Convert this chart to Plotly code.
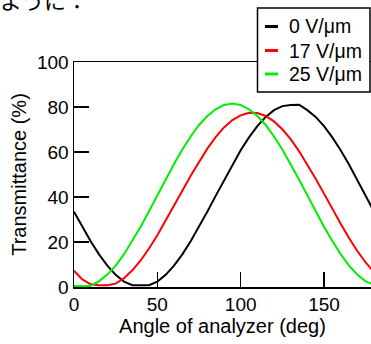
import plotly.graph_objects as go

angle = [0, 5, 10, 15, 20, 25, 30, 35, 40, 45, 50, 55, 60, 65, 70, 75, 80, 85, 90,
         95, 100, 105, 110, 115, 120, 125, 130, 135, 140, 145, 150, 155, 160, 165, 170, 175, 180]

t_0 = [33.5, 26.6, 20.3, 14.5, 9.5, 5.4, 2.4, 0.8, 0.7, 0.8, 2.4, 5.4, 9.5, 14.5, 20.3, 26.6,
       33.5, 40.5, 47.5, 54.4, 60.8, 66.5, 71.5, 75.6, 78.6, 80.4, 80.9, 81.0, 78.6, 75.6, 71.5,
       66.5, 60.8, 54.4, 47.5, 40.5, 33.5]
t_17 = [7.2, 3.4, 1.2, 0.8, 0.8, 1.5, 3.9, 7.4, 11.8, 17.1, 23.0, 29.4, 36.0, 42.8, 49.4, 55.7,
        61.5, 66.6, 70.9, 74.2, 76.3, 77.4, 77.3, 76.0, 73.6, 70.1, 65.7, 60.4, 54.5, 48.1, 41.5,
        34.7, 28.1, 21.8, 16.0, 10.9, 6.6]
t_25 = [0.4, 0.3, 0.6, 2.5, 5.5, 9.5, 14.6, 20.4, 26.8, 33.7, 40.8, 47.8, 54.7, 61.1, 66.9, 72.0,
        76.0, 79.0, 80.9, 81.5, 80.9, 79.0, 76.0, 72.0, 66.9, 61.1, 54.7, 47.8, 40.8, 33.7, 26.8,
        20.4, 14.6, 9.5, 5.5, 2.5, 1.0]

series_names = ["0 V/\u03bcm", "17 V/\u03bcm", "25 V/\u03bcm"]
series_values = [t_0, t_17, t_25]
series_colors = ["#000000", "#ff0000", "#00ee00"]

x_ticks = [0, 50, 100, 150]
y_ticks = [0, 20, 40, 60, 80, 100]

FONT = "Liberation Sans"

fig = go.Figure()
for name, vals, col in zip(series_names, series_values, series_colors):
    fig.add_trace(go.Scatter(x=angle, y=vals, mode="lines", name=name,
                             line=dict(color=col, width=2), showlegend=False))

W, H = 371, 344
L, R, T, B = 74, 0, 62, 57
pw, ph = W - L - R, H - T - B

def px(x):
    return (x - L) / pw

def py(y):
    return (H - B - y) / ph

shapes = []
annotations = []
# legend box
shapes.append(dict(type="rect", xref="paper", yref="paper",
                   x0=px(257.5), x1=px(370), y0=py(92), y1=py(8),
                   line=dict(color="black", width=1.5), fillcolor="white", layer="above"))
row_y = [26.5, 50.5, 74]
for name, col, ry in zip(series_names, series_colors, row_y):
    shapes.append(dict(type="line", xref="paper", yref="paper",
                       x0=px(265), x1=px(278), y0=py(ry), y1=py(ry),
                       line=dict(color=col, width=3), layer="above"))
    annotations.append(dict(xref="paper", yref="paper", x=px(287), y=py(ry),
                            xanchor="left", yanchor="middle", text=name, showarrow=False,
                            font=dict(family=FONT, size=19.5, color="black")))

annotations.append(dict(xref="paper", yref="paper", x=px(-2), y=py(17),
                        xanchor="left", yanchor="bottom", text="ように：", showarrow=False,
                        font=dict(family="Noto Sans CJK JP", size=22, color="black")))

fig.update_layout(
    width=W, height=H,
    margin=dict(l=L, r=R, t=T, b=B, pad=0, autoexpand=False),
    paper_bgcolor="white", plot_bgcolor="white",
    font=dict(family=FONT, size=19, color="black"),
    shapes=shapes, annotations=annotations,
    xaxis=dict(range=[0, 178.2], automargin=False,
               tickvals=x_ticks, ticks="inside", ticklen=15, tickwidth=1.5, tickcolor="black",
               showline=True, linecolor="black", linewidth=1.5, mirror=True,
               showgrid=False, zeroline=False,
               title=dict(text="Angle of analyzer (deg)", font=dict(family=FONT, size=20), standoff=3),
               tickfont=dict(family=FONT, size=19)),
    yaxis=dict(range=[0, 100], automargin=False, tickvals=y_ticks, ticks="inside", ticklen=15,
               tickwidth=1.5, tickcolor="black", showline=True, linecolor="black", linewidth=1.5,
               showgrid=False, zeroline=False,
               title=dict(text="Transmittance (%)", font=dict(family=FONT, size=20), standoff=5),
               tickfont=dict(family=FONT, size=19)),
)

fig.write_html("out.html", config={"displayModeBar": False, "staticPlot": True},
               post_script="document.body.style.margin='0';document.body.style.overflow='hidden';")
